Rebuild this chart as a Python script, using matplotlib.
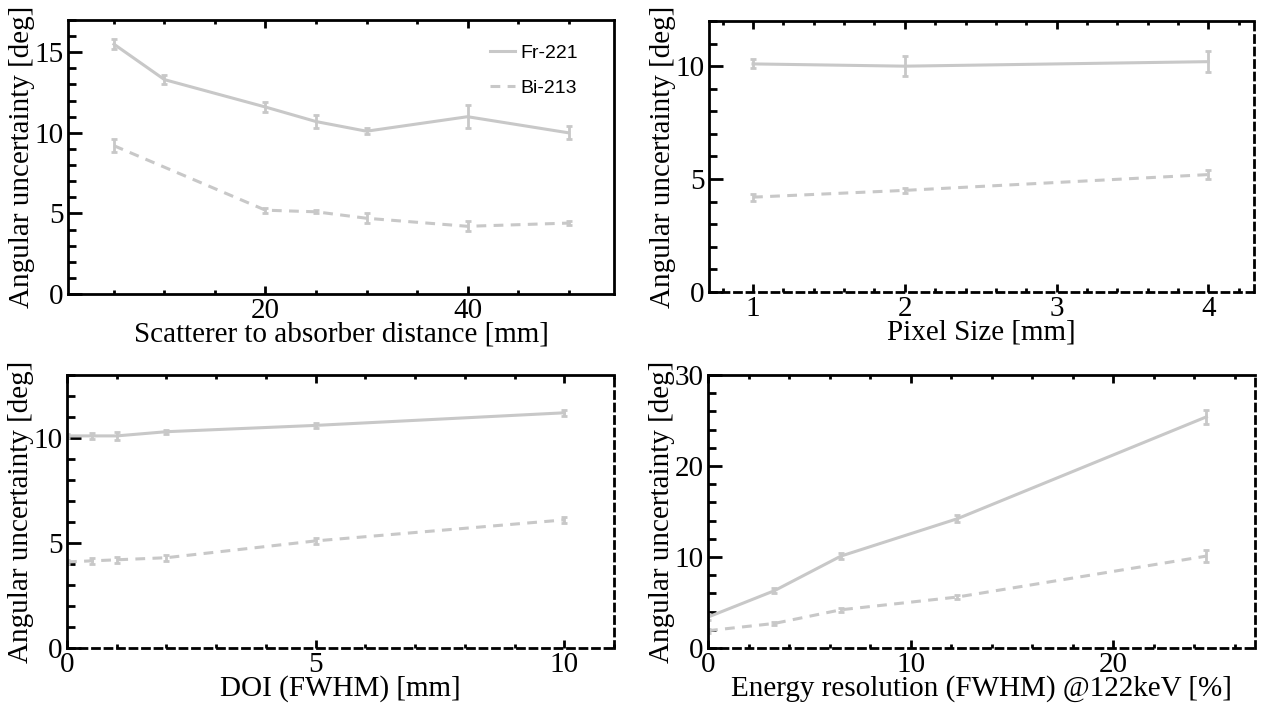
"""
Angular uncertainty vs. detector parameters, Fr-221 / Bi-213
"""
import matplotlib
matplotlib.use("Agg")
import matplotlib.pyplot as plt
from matplotlib.ticker import MultipleLocator

# scatterer to absorber distance [mm]
dist_fr = [5, 10, 20, 25, 30, 40, 50]
dist_fr_y = [15.5, 13.3, 11.6, 10.7, 10.1, 11.0, 10.0]
dist_fr_err = [0.3, 0.3, 0.3, 0.4, 0.2, 0.7, 0.4]
dist_bi = [5, 20, 25, 30, 40, 50]
dist_bi_y = [9.2, 5.2, 5.1, 4.7, 4.2, 4.4]
dist_bi_err = [0.4, 0.15, 0.1, 0.3, 0.3, 0.1]

# pixel size [mm]
pix = [1, 2, 4]
pix_fr_y = [10.1, 10.0, 10.2]
pix_fr_err = [0.2, 0.45, 0.45]
pix_bi_y = [4.2, 4.5, 5.2]
pix_bi_err = [0.15, 0.1, 0.2]

# DOI (FWHM) [mm]
doi = [0, 0.5, 1, 2, 5, 10]
doi_fr_y = [10.1, 10.1, 10.1, 10.3, 10.6, 11.2]
doi_fr_err = [0.1, 0.15, 0.2, 0.1, 0.1, 0.15]
doi_bi_y = [4.1, 4.15, 4.2, 4.3, 5.1, 6.1]
doi_bi_err = [0.1, 0.15, 0.15, 0.15, 0.15, 0.15]

# energy resolution (FWHM) @122keV [%]
eres = [0, 3.28, 6.56, 12.3, 24.6]
eres_fr_y = [3.4, 6.3, 10.1, 14.2, 25.4]
eres_fr_err = [0.3, 0.3, 0.3, 0.4, 0.8]
eres_bi_y = [1.9, 2.7, 4.2, 5.6, 10.1]
eres_bi_err = [0.2, 0.2, 0.2, 0.2, 0.7]

GREY = "#c8c8c8"
SERIF = "Liberation Serif"
SANS = "Liberation Sans"
LW = 2.2
BI_DASH = (0, (3.2, 2.4))
SPINE_DASH = (0, (2.5, 2.0))

plt.rcParams["font.family"] = SERIF
plt.rcParams["font.size"] = 21


def series(ax, x, y, err, dashed=False, label=None):
    ls = BI_DASH if dashed else "-"
    c = ax.errorbar(x, y, yerr=err, color=GREY, lw=LW, ls=ls, elinewidth=2,
                    capsize=2.5, capthick=2, label=label)
    return c[0]


def style(ax, xlim, ylim, xmaj, xmin, ymaj, ymin, xlabel, dashed=True):
    ax.set_xlim(*xlim)
    ax.set_ylim(*ylim)
    ax.xaxis.set_major_locator(MultipleLocator(xmaj))
    ax.xaxis.set_minor_locator(MultipleLocator(xmin))
    ax.yaxis.set_major_locator(MultipleLocator(ymaj))
    ax.yaxis.set_minor_locator(MultipleLocator(ymin))
    for s in ax.spines.values():
        s.set_linewidth(2)
    if dashed:
        ax.spines["right"].set_linestyle(SPINE_DASH)
        ax.spines["bottom"].set_linestyle(SPINE_DASH)
    ax.tick_params(axis="x", which="both", direction="in", top=True,
                   bottom=True, width=2, pad=3, labelsize=21)
    ax.tick_params(axis="x", which="major", length=6)
    ax.tick_params(axis="x", which="minor", length=3)
    ax.tick_params(axis="y", which="both", direction="in", right=False,
                   width=2, pad=3, labelsize=21)
    ax.tick_params(axis="y", which="major", length=10)
    ax.tick_params(axis="y", which="minor", length=6)
    ax.set_xlabel(xlabel, fontsize=21, labelpad=-2)
    ax.set_ylabel("Angular uncertainty [deg]", fontsize=21, labelpad=0)


fig = plt.figure(figsize=(12.67, 7.06), dpi=100)
W, H = 1267, 706


def axes_px(x0, x1, y0, y1):
    return fig.add_axes([x0 / W, 1 - y1 / H, (x1 - x0) / W, (y1 - y0) / H])


ax1 = axes_px(68, 614, 20, 294)
fr_line = series(ax1, dist_fr, dist_fr_y, dist_fr_err)
bi_line = series(ax1, dist_bi, dist_bi_y, dist_bi_err, dashed=True)
style(ax1, (0.45, 54.5), (0, 17), 20, 5, 5, 1,
      "Scatterer to absorber distance [mm]", dashed=False)
ax1.legend([fr_line, bi_line], ["Fr-221", "Bi-213"], loc="upper left",
           bbox_to_anchor=(0.772, 0.912), frameon=False,
           prop={"family": SANS, "size": 14}, handlelength=1.3,
           handletextpad=0.3, labelspacing=0.9, borderpad=0,
           borderaxespad=0)

ax2 = axes_px(709, 1254, 21, 292)
series(ax2, pix, pix_fr_y, pix_fr_err)
series(ax2, pix, pix_bi_y, pix_bi_err, dashed=True)
style(ax2, (0.71, 4.3), (0, 12), 1, 0.2, 5, 1, "Pixel Size [mm]")

ax3 = axes_px(67, 614, 375, 648)
series(ax3, doi, doi_fr_y, doi_fr_err)
series(ax3, doi, doi_bi_y, doi_bi_err, dashed=True)
style(ax3, (0, 11), (0, 13), 5, 1, 5, 1, "DOI (FWHM) [mm]")

ax4 = axes_px(708, 1255, 375, 648)
series(ax4, eres, eres_fr_y, eres_fr_err)
series(ax4, eres, eres_bi_y, eres_bi_err, dashed=True)
style(ax4, (0, 27), (0, 30), 10, 2, 10, 2,
      "Energy resolution (FWHM) @122keV [%]")

fig.savefig("out.png", dpi=100)
